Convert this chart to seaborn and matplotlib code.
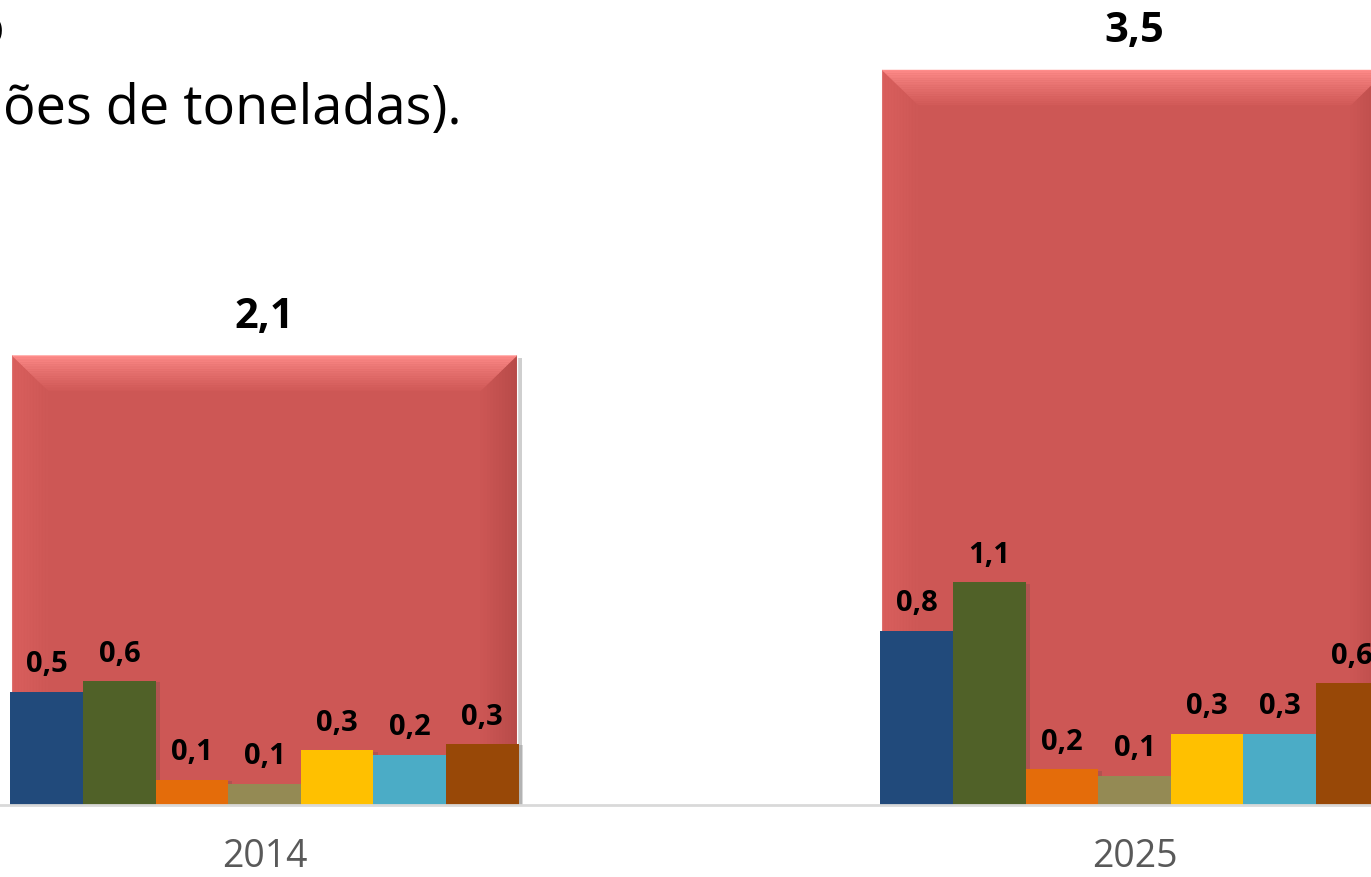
import matplotlib.pyplot as plt
import matplotlib.patheffects as pe
import numpy as np
import pandas as pd
import seaborn as sns
from matplotlib.colors import to_rgb
from matplotlib.patches import Polygon

years = ['2014', '2025']
totals = [2.14, 3.5]
series = ['Série 1', 'Série 2', 'Série 3', 'Série 4', 'Série 5', 'Série 6', 'Série 7']
values_2014 = [0.54, 0.59, 0.12, 0.10, 0.26, 0.24, 0.29]
values_2025 = [0.83, 1.06, 0.17, 0.14, 0.34, 0.34, 0.58]
colors = ['#214A7B', '#506128', '#E46C0A', '#948A54', '#FFC000', '#4BACC6', '#984807']
total_color = '#CD5755'


def fmt(v):
    return f'{v:.1f}'.replace('.', ',')


def draw_bevel(ax, patch, bx, by):
    x0, y0 = patch.get_x(), patch.get_y()
    x1, y1 = x0 + patch.get_width(), y0 + patch.get_height()
    # side bands, fading horizontally
    left_out, right_out = np.array(to_rgb('#D95F5D')), np.array(to_rgb('#B84B49'))
    base = np.array(to_rgb(total_color))
    n = 12
    for i in range(n):
        t0, t1 = i / n, (i + 1) / n
        cl = left_out + (base - left_out) * t0
        cr = right_out + (base - right_out) * t0
        ax.add_patch(Polygon([(x0 + t0 * bx, y0), (x0 + t1 * bx, y0), (x0 + t1 * bx, y1 - t1 * by), (x0 + t0 * bx, y1 - t0 * by)],
                             closed=True, facecolor=cl, edgecolor=cl, linewidth=0.3, zorder=1.5))
        ax.add_patch(Polygon([(x1 - t0 * bx, y0), (x1 - t1 * bx, y0), (x1 - t1 * bx, y1 - t1 * by), (x1 - t0 * bx, y1 - t0 * by)],
                             closed=True, facecolor=cr, edgecolor=cr, linewidth=0.3, zorder=1.5))
    # top band with a vertical gradient
    top, bottom = np.array(to_rgb('#FF8C8A')), np.array(to_rgb('#D05957'))
    n = 20
    for i in range(n):
        t0, t1 = i / n, (i + 1) / n
        ya, yb = y1 - t0 * by, y1 - t1 * by
        c = top + (bottom - top) * (t0 ** 0.8)
        ax.add_patch(Polygon([(x0 + t0 * bx, ya), (x1 - t0 * bx, ya), (x1 - t1 * bx, yb), (x0 + t1 * bx, yb)],
                             closed=True, facecolor=c, edgecolor=c, linewidth=0.3, zorder=1.6))


sns.set_theme(style='white')
plt.rcParams['font.family'] = ['Open Sans', 'DejaVu Sans']

df = pd.DataFrame({
    'ano': [y for y in years for _ in series],
    'serie': series * len(years),
    'valor': values_2014 + values_2025,
})

fig = plt.figure(figsize=(13.71, 8.77), dpi=100)
ax = fig.add_axes([0, 72 / 877, 1, 805 / 877])

sns.barplot(x=years, y=totals, order=years, width=0.58, color=total_color, saturation=1, ax=ax)
total_patches = list(ax.patches)
for p in total_patches:
    p.set_zorder(1)
    p.set_path_effects([pe.SimplePatchShadow(offset=(4, -2), shadow_rgbFace='#777777', alpha=0.35), pe.Normal()])
ax.bar_label(ax.containers[0], labels=[fmt(v) for v in totals], padding=13,
             fontsize=30, fontweight='bold', color='black')

sns.barplot(data=df, x='ano', y='valor', hue='serie', order=years, hue_order=series,
            palette=colors, width=0.584, saturation=1, legend=False, ax=ax)
for cont in ax.containers[1:]:
    for p in cont:
        p.set_zorder(2)
        p.set_edgecolor('none')
        p.set_path_effects([pe.SimplePatchShadow(offset=(3, -1), shadow_rgbFace='#444444', alpha=0.2), pe.Normal()])
    ax.bar_label(cont, labels=[fmt(v) for v in cont.datavalues], padding=9,
                 fontsize=21, fontweight='bold', color='black', zorder=3)

px_y = 210.0
px_x = 870.0
for p in total_patches:
    draw_bevel(ax, p, 36 / px_x, 35 / px_y)

ax.set_xlim(-264.5 / px_x, 1 + (1371 - 1134.5) / px_x)
ax.set_ylim(0, 805 / px_y)
sns.despine(ax=ax, left=True, top=True, right=True)
ax.spines['bottom'].set_color('#D9D9D9')
ax.spines['bottom'].set_linewidth(2)
ax.set_yticks([])
ax.set_xlabel('')
ax.set_ylabel('')
ax.tick_params(axis='x', length=0, pad=24, labelsize=27, labelcolor='#595959')

fig.text(462 / 1371, 1 - 124 / 877, '(em milhões de toneladas).', ha='right', va='baseline',
         fontsize=39, color='black')
fig.text(5 / 1371, 1 - 45 / 877, 'Projeção do consumo', ha='right', va='baseline',
         fontsize=39, color='black')

fig.savefig('out.png', dpi=100)
